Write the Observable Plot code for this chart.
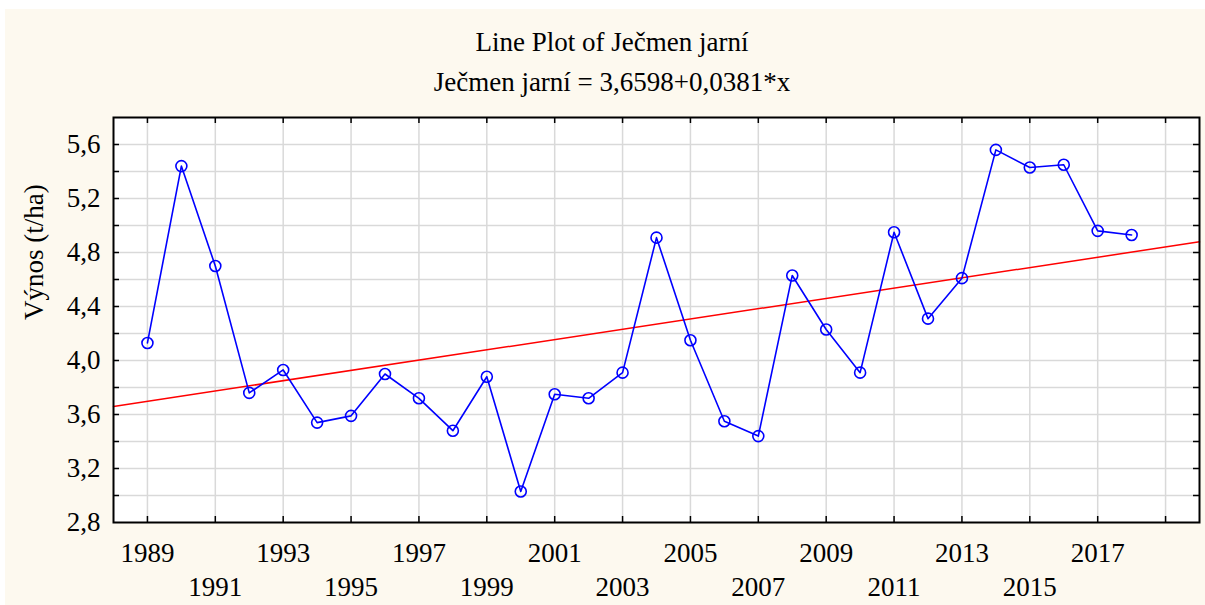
<!DOCTYPE html>
<html><head><meta charset="utf-8">
<script src="https://cdn.jsdelivr.net/npm/d3@7"></script>
<script src="https://cdn.jsdelivr.net/npm/@observablehq/plot@0.6"></script>
<style>
body{margin:0;background:#fff;width:1205px;height:605px;overflow:hidden;position:relative;font-family:"Liberation Serif","Times New Roman",serif;}
#bg{position:absolute;left:5px;top:9px;right:0;bottom:0;background:#fdf9ef;}
.t{position:absolute;left:0;width:1224px;text-align:center;font-size:27px;color:#000;white-space:nowrap;line-height:1;font-family:"Liberation Serif",serif;}
#chart{position:absolute;left:0;top:100px;}
#chart svg, #chart svg text{font-family:"Liberation Serif",serif !important;}
</style></head><body>
<div id="bg"></div>
<div class="t" style="top:29px">Line Plot of Ječmen jarní</div>
<div class="t" style="top:69px">Ječmen jarní = 3,6598+0,0381*x</div>
<div id="chart"></div>
<script>
const years = [1989,1990,1991,1992,1993,1994,1995,1996,1997,1998,1999,2000,2001,2002,2003,2004,2005,2006,2007,2008,2009,2010,2011,2012,2013,2014,2015,2016,2017,2018];
const yields = [4.13,5.44,4.70,3.76,3.93,3.54,3.59,3.90,3.72,3.48,3.88,3.03,3.75,3.72,3.91,4.91,4.15,3.55,3.44,4.63,4.23,3.91,4.95,4.31,4.61,5.56,5.43,5.45,4.96,4.93];
const intercept = 3.6598, slope = 0.0381, baseYear = 1988;
const trendYears = [1988, 2020];
const xTicks = [1989,1991,1993,1995,1997,1999,2001,2003,2005,2007,2009,2011,2013,2015,2017,2019];
const xLabelsRow1 = [1989,1993,1997,2001,2005,2009,2013,2017];
const xLabelsRow2 = [1991,1995,1999,2003,2007,2011,2015];
const yTicks = [3.0,3.2,3.4,3.6,3.8,4.0,4.2,4.4,4.6,4.8,5.0,5.2,5.4,5.6];
const yLabels = [2.8,3.2,3.6,4.0,4.4,4.8,5.2,5.6];
const yTitle = "Výnos (t/ha)";

const data = years.map((y, i) => ({year: y, value: yields[i]}));
const trend = trendYears.map(x => ({year: x, value: intercept + slope * (x - baseYear)}));

const W = 1205, H = 505, mL = 113, mR = 6, mT = 17, mB = 83;
const iw = W - mL - mR, ih = H - mT - mB, tk = 6;
const fmtY = d => d.toFixed(1).replace(".", ",");
const ff = '"Liberation Serif", serif';

const chart = Plot.plot({
  width: W, height: H,
  marginLeft: mL, marginRight: mR, marginTop: mT, marginBottom: mB,
  style: {background: "none", fontFamily: ff, fontSize: "27px", color: "#000"},
  x: {domain: [1988, 2020]},
  y: {domain: [2.8, 5.8]},
  marks: [
    Plot.frame({fill: "white", stroke: null}),
    Plot.ruleX(xTicks, {x: d => d, stroke: "#d9d9d9", strokeWidth: 1.5}),
    Plot.ruleY(yTicks, {y: d => d, stroke: "#d9d9d9", strokeWidth: 1.5}),
    Plot.tickY(yTicks, {y: d => d, insetRight: iw - tk, stroke: "#000", strokeWidth: 1.5}),
    Plot.tickY(yTicks, {y: d => d, insetLeft: iw - tk, stroke: "#000", strokeWidth: 1.5}),
    Plot.tickX(xTicks, {x: d => d, insetBottom: ih - tk, stroke: "#000", strokeWidth: 1.5}),
    Plot.tickX(xTicks, {x: d => d, insetTop: ih - tk, stroke: "#000", strokeWidth: 1.5}),
    Plot.line(trend, {x: "year", y: "value", stroke: "#ff0000", strokeWidth: 1.5}),
    Plot.line(data, {x: "year", y: "value", stroke: "#0000ff", strokeWidth: 1.6}),
    Plot.dot(data, {x: "year", y: "value", r: 5.5, stroke: "#0000ff", strokeWidth: 1.6, fill: "none"}),
    Plot.frame({stroke: "#000", strokeWidth: 2}),
    Plot.axisY(yLabels, {anchor: "left", tickSize: 0, tickPadding: 13, tickFormat: fmtY, label: null, fontSize: 27, fontFamily: ff}),
    Plot.axisX(xLabelsRow1, {anchor: "bottom", tickSize: 0, tickPadding: 20, tickFormat: d => String(d), label: null, fontSize: 27, fontFamily: ff}),
    Plot.axisX(xLabelsRow2, {anchor: "bottom", tickSize: 0, tickPadding: 54, tickFormat: d => String(d), label: null, fontSize: 27, fontFamily: ff}),
    Plot.text([yTitle], {text: d => d, frameAnchor: "left", rotate: -90, dx: -79, fontSize: 27, fontFamily: ff, fill: "#000"})
  ]
});
document.getElementById("chart").appendChild(chart);
</script>
</body></html>
